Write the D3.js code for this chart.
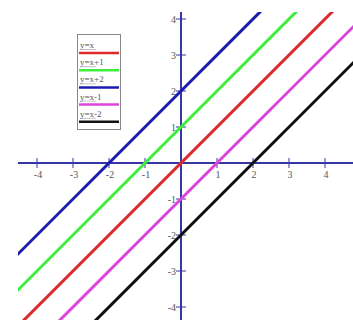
<!DOCTYPE html>
<html><head><meta charset="utf-8">
<script src="https://cdn.jsdelivr.net/npm/d3@7"></script>
<style>html,body{margin:0;padding:0;background:#fff;}svg{display:block;}</style>
</head><body>
<svg id="chart" width="353" height="320"></svg>
<script>
const seriesNames = ["y=x", "y=x+1", "y=x+2", "y=x-1", "y=x-2"];
const seriesOffsets = [0, 1, 2, -1, -2];
const seriesColors = ["#dd2a2a", "#3ced3c", "#1c1cae", "#dd44dd", "#111111"];
const xTickValues = [-4, -3, -2, -1, 1, 2, 3, 4];
const yTickValues = [-4, -3, -2, -1, 1, 2, 3, 4];
const xDomain = [-5, 5];

const svg = d3.select("#chart");
const x = d3.scaleLinear().domain([-5, 5]).range([181 - 5 * 36, 181 + 5 * 36]);
const y = d3.scaleLinear().domain([-5, 5]).range([163 + 5 * 36, 163 - 5 * 36]);
const plot = {left: 18, right: 353, top: 12, bottom: 320};
const axisColor = "#3636a6";
const labelColor = "#555";

svg.append("defs").append("clipPath").attr("id", "clip")
  .append("rect").attr("x", plot.left).attr("y", plot.top)
  .attr("width", plot.right - plot.left).attr("height", plot.bottom - plot.top);

// axes
svg.append("line").attr("x1", plot.left).attr("x2", plot.right)
  .attr("y1", y(0)).attr("y2", y(0)).attr("stroke", axisColor).attr("stroke-width", 2);
svg.append("line").attr("x1", x(0)).attr("x2", x(0))
  .attr("y1", plot.top).attr("y2", plot.bottom).attr("stroke", axisColor).attr("stroke-width", 2);

svg.selectAll(".xt").data(xTickValues).enter().append("line")
  .attr("x1", d => x(d)).attr("x2", d => x(d))
  .attr("y1", y(0) - 5).attr("y2", y(0) + 5)
  .attr("stroke", axisColor).attr("stroke-width", 1);
svg.selectAll(".yt").data(yTickValues).enter().append("line")
  .attr("y1", d => y(d)).attr("y2", d => y(d))
  .attr("x1", x(0) - 5).attr("x2", x(0) + 5)
  .attr("stroke", axisColor).attr("stroke-width", 1);

svg.selectAll(".xl").data(xTickValues).enter().append("text")
  .attr("x", d => x(d) + 1).attr("y", y(0) + 15)
  .attr("text-anchor", "middle").attr("fill", labelColor)
  .attr("font-family", "Liberation Serif").attr("font-size", 10)
  .text(d => d);
svg.selectAll(".yl").data(yTickValues).enter().append("text")
  .attr("x", x(0) - 5).attr("y", d => y(d) + 3.5)
  .attr("text-anchor", "end").attr("fill", labelColor)
  .attr("font-family", "Liberation Serif").attr("font-size", 10)
  .text(d => d);

// lines
const g = svg.append("g").attr("clip-path", "url(#clip)");
const line = d3.line().x(d => x(d[0])).y(d => y(d[1]));
seriesOffsets.forEach((b, i) => {
  g.append("path")
    .attr("d", line(xDomain.map(v => [v, v + b])))
    .attr("fill", "none").attr("stroke", seriesColors[i]).attr("stroke-width", 3);
});

// legend
const leg = svg.append("g");
leg.append("rect").attr("x", 77.5).attr("y", 34.5).attr("width", 43).attr("height", 95)
  .attr("fill", "#fff").attr("stroke", "#888").attr("stroke-width", 1);
seriesNames.forEach((name, i) => {
  const ly = 53 + i * 17.2;
  leg.append("text").attr("x", 80).attr("y", ly - 5)
    .attr("fill", labelColor).attr("font-family", "Liberation Serif").attr("font-size", 9)
    .text(name);
  leg.append("line").attr("x1", 80).attr("x2", 96).attr("y1", ly - 3.5).attr("y2", ly - 3.5)
    .attr("stroke", "#999").attr("stroke-width", 0.6);
  leg.append("line").attr("x1", 79).attr("x2", 119).attr("y1", ly).attr("y2", ly)
    .attr("stroke", seriesColors[i]).attr("stroke-width", 2.5);
});
</script>
</body></html>
